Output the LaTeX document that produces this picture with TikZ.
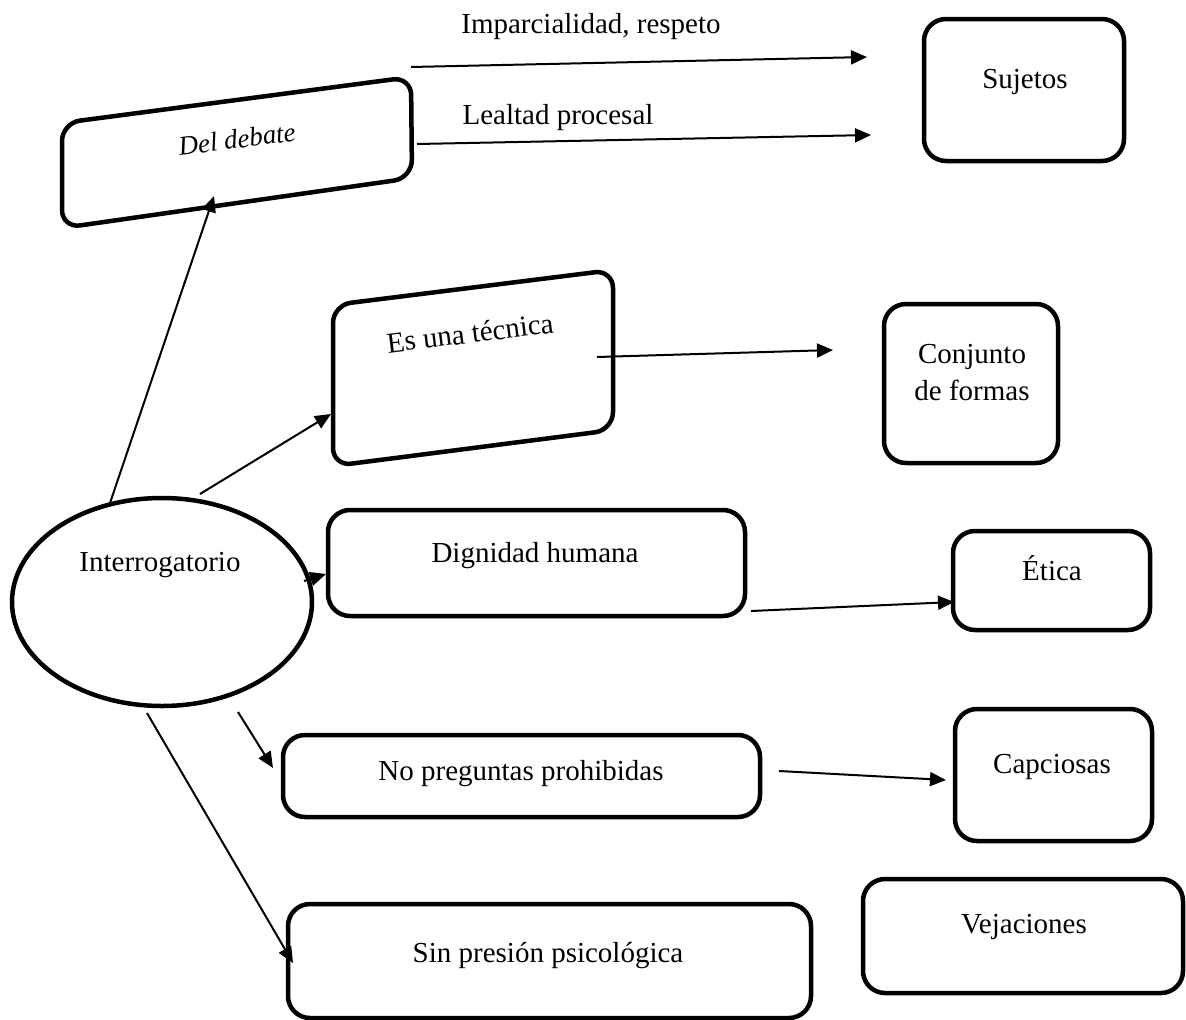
\documentclass[tikz,border=0pt]{standalone}
\usepackage{fontspec}
\setmainfont{Liberation Serif}
\usetikzlibrary{arrows.meta,shapes.geometric}
\begin{document}
\begin{tikzpicture}[x=1pt,y=-1pt,
  box/.style={draw, line width=4.5pt, rounded corners=22pt, inner sep=0pt},
  txt/.style={font=\fontsize{29}{36}\selectfont, inner sep=0pt, anchor=base},
  arr/.style={line width=2pt, -{Triangle[length=16pt,width=14pt]}},
  skew/.style={draw, line width=4.5pt, rounded corners=18pt}
  ]
\useasboundingbox (0,0) rectangle (1186,1020);

% straight boxes
\node[box, minimum width=200pt, minimum height=142pt] (suj) at (1024,90) {};
\node[box, minimum width=174pt, minimum height=159pt] (con) at (971,383.5) {};
\node[box, minimum width=417pt, minimum height=106pt] (dig) at (536.5,563) {};
\node[box, minimum width=197pt, minimum height=99pt] (eti) at (1051.5,580.5) {};
\node[box, minimum width=197pt, minimum height=132pt] (cap) at (1053.5,775) {};
\node[box, minimum width=477pt, minimum height=82pt] (nop) at (521.5,776) {};
\node[box, minimum width=523pt, minimum height=114pt] (sin) at (549.5,961) {};
\node[box, minimum width=320pt, minimum height=114pt] (vej) at (1023,936) {};

% ellipse
\node[draw, ellipse, line width=4.5pt, minimum width=300pt, minimum height=208pt, inner sep=0pt] (int) at (162,602) {};

% skewed boxes
\draw[skew] (62,123) -- (411,77) -- (412,178) -- (62,228) -- cycle;
\draw[skew] (333,305) -- (613,270) -- (613,430) -- (333,466) -- cycle;

% texts
\node[txt] (sujT) at (1025,88) {Sujetos};
\node[txt] (conT1) at (972,363) {Conjunto};
\node[txt] (conT2) at (972,400) {de formas};
\node[txt] (digT) at (535,562) {Dignidad humana};
\node[txt] (etiT) at (1052,580) {Ética};
\node[txt] (capT) at (1052,773) {Capciosas};
\node[txt] (nopT) at (521,780) {No preguntas prohibidas};
\node[txt] (sinT) at (548,962) {Sin presión psicológica};
\node[txt] (vejT) at (1024,933) {Vejaciones};
\node[txt] (intT) at (160,571) {Interrogatorio};
\node[txt] (impT) at (591,33) {Imparcialidad, respeto};
\node[txt] (leaT) at (558,124) {Lealtad procesal};
\node[font=\fontsize{27}{34}\selectfont\itshape, inner sep=0pt, rotate=7.5] (debT) at (237,139) {Del debate};
\node[font=\fontsize{29}{36}\selectfont, inner sep=0pt, rotate=7] (tecT) at (470,333) {Es una técnica};

% connector end points
\coordinate (a1s) at (411,67);  \coordinate (a1e) at (867,57);
\coordinate (a2s) at (417,144); \coordinate (a2e) at (871,135);
\coordinate (a3s) at (597,357); \coordinate (a3e) at (833,350);
\coordinate (a4s) at (110,503); \coordinate (a4e) at (214,196);
\coordinate (a5s) at (200,494); \coordinate (a5e) at (331,414);
\coordinate (a6s) at (304,581); \coordinate (a6e) at (326,574);
\coordinate (a7s) at (751,611); \coordinate (a7e) at (954,602);
\coordinate (a8s) at (779,771); \coordinate (a8e) at (946,780);
\coordinate (a9s) at (238,712); \coordinate (a9e) at (273,768);
\coordinate (a10s) at (147,713); \coordinate (a10e) at (293,963);

\draw[arr] (a1s) -- (a1e);
\draw[arr] (a2s) -- (a2e);
\draw[arr] (a3s) -- (a3e);
\draw[arr] (a4s) -- (a4e);
\draw[arr] (a5s) -- (a5e);
\draw[arr] (a6s) -- (a6e);
\draw[arr] (a7s) -- (a7e);
\draw[arr] (a8s) -- (a8e);
\draw[arr] (a9s) -- (a9e);
\draw[arr] (a10s) -- (a10e);
\end{tikzpicture}
\end{document}
